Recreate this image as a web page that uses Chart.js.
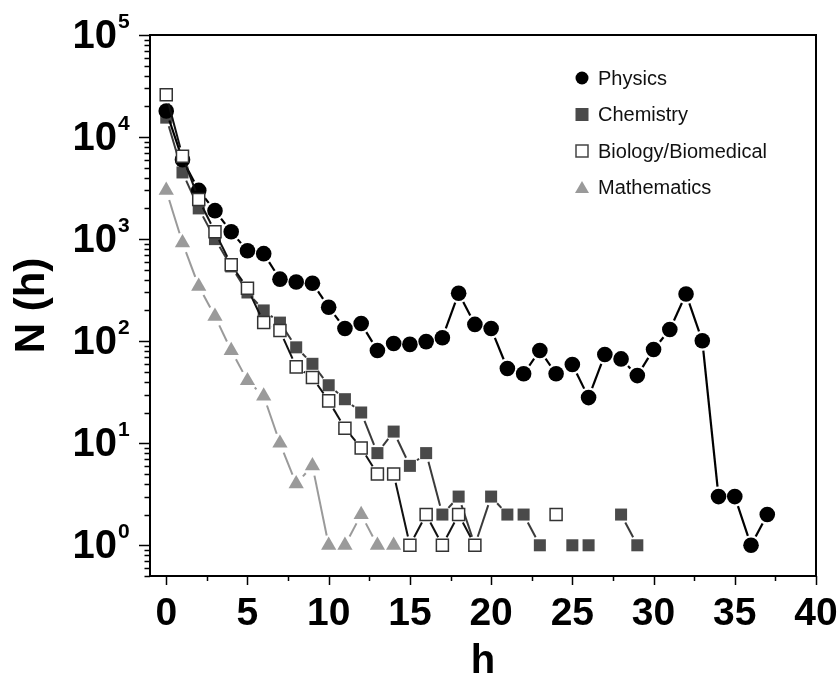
<!DOCTYPE html>
<html lang="en">
<head>
<meta charset="UTF-8">
<title>N(h) by field</title>
<script src="https://cdn.jsdelivr.net/npm/chart.js"></script>
<style>
  body { margin: 0; background: #fff; }
  .wrap { width: 838px; height: 680px; position: relative; }
</style>
</head>
<body>
<div class="wrap"><canvas id="hChart"></canvas></div>
<script>
// h index and N(h) counts per field (null = no point at that h)
const hPhysics = [0,1,2,3,4,5,6,7,8,9,10,11,12,13,14,15,16,17,18,19,20,21,22,23,24,25,26,27,28,29,30,31,32,33,34,35,36,37];
const nPhysics = [18000,6000,3000,1900,1180,770,720,405,380,370,215,133,149,81,95,93,99,108,295,146,133,54,48,81,48,59,28,74,67,46,83,130,290,101,3,3,1,2];

const hChemistry = [0,1,2,3,4,5,6,7,8,9,10,11,12,13,14,15,16,17,18,19,20,21,22,23,24,25,26,27,28,29];
const nChemistry = [15500,4500,2000,1000,540,300,200,152,87,60,37,27,20,8,13,6,8,2,3,1,3,2,2,1,null,1,1,null,2,1];

const hBiology = [0,1,2,3,4,5,6,7,8,9,10,11,12,13,14,15,16,17,18,19,20,21,22,23,24];
const nBiology = [26000,6500,2450,1180,560,330,152,127,56,44,26,14,9,5,5,1,2,1,2,1,null,null,null,null,2];

const hMath = [0,1,2,3,4,5,6,7,8,9,10,11,12,13,14];
const nMath = [3000,920,345,175,81,41,29,10,4,6,1,1,2,1,1];

const xTickValues = [0,5,10,15,20,25,30,35,40];
const yDecades = [0,1,2,3,4,5];
const legendLabels = ['Physics','Chemistry','Biology/Biomedical','Mathematics'];

const FONT = '"Liberation Sans", Arial, sans-serif';

// line stops short of each symbol, like the "gap to symbol" look
function gapDash(gap) {
  return ctx => {
    const dx = ctx.p1.x - ctx.p0.x, dy = ctx.p1.y - ctx.p0.y;
    const len = Math.sqrt(dx * dx + dy * dy);
    return [0, gap, Math.max(0, len - 2 * gap), 3000 + ctx.p0DataIndex];
  };
}

function pts(hs, ns) {
  return hs.map((h, i) => ({ x: h, y: ns[i] }));
}

// frame, tick marks, y labels with exponents, legend
const decorations = {
  id: 'decorations',
  afterDraw(chart) {
    const ctx = chart.ctx;
    const area = chart.chartArea;
    const xs = chart.scales.x, ys = chart.scales.y;
    ctx.save();
    ctx.strokeStyle = '#000';
    ctx.lineWidth = 2;
    ctx.strokeRect(area.left, area.top, area.right - area.left, area.bottom - area.top);

    ctx.lineWidth = 1.5;
    ctx.beginPath();
    for (let k = -1; k <= 4; k++) {
      for (let m = 1; m <= 9; m++) {
        const v = m * Math.pow(10, k);
        if (v < ys.min * 0.999 || v > ys.max * 1.001) continue;
        const py = Math.round(ys.getPixelForValue(v)) + 0.5;
        const len = m === 1 ? 11 : 5.5;
        ctx.moveTo(area.left - len, py);
        ctx.lineTo(area.left, py);
      }
    }
    const topPy = Math.round(ys.getPixelForValue(ys.max)) + 0.5;
    ctx.moveTo(area.left - 11, topPy);
    ctx.lineTo(area.left, topPy);
    for (let v = 0; v <= 40; v += 2.5) {
      const px = Math.round(xs.getPixelForValue(v)) + 0.5;
      const len = v % 5 === 0 ? 9 : 5;
      ctx.moveTo(px, area.bottom);
      ctx.lineTo(px, area.bottom + len);
    }
    ctx.stroke();

    // y tick labels 10^k
    ctx.fillStyle = '#000';
    yDecades.forEach(k => {
      const py = ys.getPixelForValue(Math.pow(10, k));
      ctx.font = 'bold 40px ' + FONT;
      ctx.textAlign = 'right';
      ctx.textBaseline = 'middle';
      ctx.fillText('10', 117, py + 2);
      ctx.font = 'bold 21px ' + FONT;
      ctx.textAlign = 'left';
      ctx.fillText(String(k), 118, py - 13);
    });

    // legend
    const lx = 582, ly0 = 78, step = 36.5;
    ctx.font = '20px ' + FONT;
    ctx.textAlign = 'left';
    ctx.textBaseline = 'middle';
    legendLabels.forEach((label, i) => {
      const y = ly0 + i * step;
      ctx.lineWidth = 1.5;
      if (i === 0) {
        ctx.fillStyle = '#000';
        ctx.beginPath(); ctx.arc(lx, y, 6.5, 0, Math.PI * 2); ctx.fill();
      } else if (i === 1) {
        ctx.fillStyle = '#4a4a4a';
        ctx.fillRect(lx - 6.5, y - 6.5, 13, 13);
      } else if (i === 2) {
        ctx.fillStyle = '#fff';
        ctx.strokeStyle = '#444';
        ctx.fillRect(lx - 6, y - 6, 12, 12);
        ctx.strokeRect(lx - 6, y - 6, 12, 12);
      } else {
        ctx.fillStyle = '#9a9a9a';
        ctx.beginPath();
        ctx.moveTo(lx, y - 6.5); ctx.lineTo(lx + 7, y + 5.5); ctx.lineTo(lx - 7, y + 5.5);
        ctx.closePath(); ctx.fill();
      }
      ctx.fillStyle = '#111';
      ctx.fillText(label, 598, y + 1);
    });
    ctx.restore();
  }
};

new Chart(document.getElementById('hChart'), {
  type: 'line',
  data: {
    datasets: [
      {
        label: 'Biology/Biomedical',
        data: pts(hBiology, nBiology),
        borderColor: '#111', borderWidth: 2,
        pointStyle: 'rect', pointRadius: 8.5,
        pointBackgroundColor: '#fff', pointBorderColor: '#333', pointBorderWidth: 1.5,
        segment: { borderDash: gapDash(9) }
      },
      {
        label: 'Physics',
        data: pts(hPhysics, nPhysics),
        borderColor: '#000', borderWidth: 2.2,
        pointStyle: 'circle', pointRadius: 7.8,
        pointBackgroundColor: '#000', pointBorderWidth: 0,
        segment: { borderDash: gapDash(10) }
      },
      {
        label: 'Chemistry',
        data: pts(hChemistry, nChemistry),
        borderColor: '#3a3a3a', borderWidth: 2,
        pointStyle: 'rect', pointRadius: 8.5,
        pointBackgroundColor: '#4a4a4a', pointBorderWidth: 0,
        segment: { borderDash: gapDash(9) }
      },
      {
        label: 'Mathematics',
        data: pts(hMath, nMath),
        borderColor: '#9a9a9a', borderWidth: 2,
        pointStyle: 'triangle', pointRadius: 8.8,
        pointBackgroundColor: '#9a9a9a', pointBorderWidth: 0,
        segment: { borderDash: gapDash(10) }
      }
    ]
  },
  options: {
    responsive: true,
    maintainAspectRatio: false,
    animation: false,
    spanGaps: false,
    layout: { padding: { top: 35, right: 22, bottom: 0, left: 0 } },
    plugins: {
      legend: { display: false },
      tooltip: { enabled: false }
    },
    scales: {
      x: {
        type: 'linear',
        min: -1,
        max: 40,
        afterBuildTicks: scale => { scale.ticks = xTickValues.map(v => ({ value: v })); },
        afterFit: scale => {
          scale.height = 104;
          scale.paddingLeft = 0;
          scale.paddingRight = 0;
        },
        grid: { display: false, drawTicks: false },
        border: { display: false },
        ticks: {
          autoSkip: false, maxRotation: 0, padding: 15, color: '#000',
          font: { family: FONT, size: 39, weight: 'bold' }
        },
        title: {
          display: true, text: 'h', color: '#000', padding: 0,
          font: { family: FONT, size: 40, weight: 'bold', lineHeight: 0.9 }
        }
      },
      y: {
        type: 'logarithmic',
        min: 0.5,
        max: 100000,
        afterFit: scale => { scale.width = 150; },
        grid: { display: false, drawTicks: false },
        border: { display: false },
        ticks: { display: false },
        title: {
          display: true, text: 'N (h)', color: '#000', padding: { top: 7, bottom: 0 },
          font: { family: FONT, size: 42, weight: 'bold' }
        }
      }
    }
  },
  plugins: [decorations]
});
</script>
</body>
</html>
